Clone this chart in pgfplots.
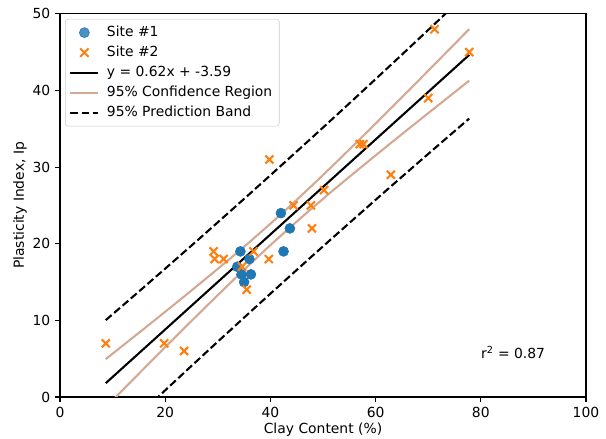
\documentclass[border=0pt]{standalone}
\usepackage{fontspec}
\setmainfont{DejaVu Sans}
\usepackage{pgfplots}
\usepackage{pgfplotstable}
\pgfplotsset{compat=1.18}
\definecolor{siteone}{HTML}{1F77B4}
\definecolor{sitetwo}{HTML}{FF7F0E}
\definecolor{confband}{HTML}{D4A993}
\definecolor{legframe}{HTML}{CCCCCC}

% Site #1 samples
\pgfplotstableread{
x y
42.0 24
43.7 22
42.5 19
34.3 19
36.0 18
33.7 17
34.5 16
36.3 16
35.0 15
}\siteA

% Site #2 samples
\pgfplotstableread{
x y
8.7 7
19.8 7
23.6 6
29.2 19
29.4 18
31.1 18
34.6 17
35.5 14
36.8 19
39.7 18
39.8 31
44.4 25
47.7 25
47.9 22
50.2 27
57.0 33
57.7 33
62.9 29
70.0 39
71.2 48
77.8 45
}\siteB

% fit, confidence and prediction bands
\pgfplotstableread{
x line cu cl pu pl
8.7 1.80 4.94 -1.33 10.03 -6.42
12 3.85 6.74 0.96 11.98 -4.28
16 6.33 8.92 3.74 14.36 -1.70
20 8.81 11.12 6.50 16.75 0.87
24 11.29 13.34 9.24 19.16 3.42
28 13.77 15.59 11.95 21.58 5.96
32 16.25 17.87 14.63 24.02 8.48
36 18.73 20.20 17.26 26.47 10.99
40 21.21 22.61 19.82 28.94 13.48
44 23.69 25.09 22.29 31.42 15.96
48 26.17 27.65 24.69 33.91 18.43
52 28.65 30.29 27.02 36.42 20.88
56 31.13 32.97 29.29 38.95 23.31
60 33.61 35.69 31.53 41.49 25.73
64 36.09 38.43 33.75 44.04 28.14
68 38.57 41.19 35.95 46.61 30.53
72 41.05 43.97 38.13 49.19 32.91
77.8 44.65 48.01 41.29 52.96 36.34
}\bands

\begin{document}
\begin{tikzpicture}
\useasboundingbox (-43.2pt,-30.2pt) rectangle (393.1pt,285.8pt);
\begin{axis}[
  scale only axis,
  width=378.7pt,
  height=275.8pt,
  xmin=0, xmax=100,
  ymin=0, ymax=50,
  xtick={0,20,...,100},
  ytick={0,10,...,50},
  tick align=outside,
  tick pos=left,
  major tick length=3.5pt,
  tick style={black, line width=0.8pt},
  axis line style={black, line width=0.8pt},
  /pgf/number format/assume math mode=true,
  tick label style={font=\normalsize},
  xlabel={Clay Content (\%)},
  ylabel={Plasticity Index, Ip},
  xlabel style={at={(0.5,0)}, anchor=center, yshift=-23.8pt},
  ylabel style={at={(0,0.5)}, anchor=center, yshift=28.8pt},
  legend cell align=left,
  legend style={at={(0,1)}, anchor=north west, xshift=3.6pt, yshift=-3.6pt,
    draw=legframe, fill=white, fill opacity=0.8, text opacity=1,
    rounded corners=2pt, font=\normalsize, inner xsep=3pt, inner ysep=2.5pt,
    nodes={text height=7.6pt, text depth=2.4pt, inner ysep=2.2pt},
    /tikz/every odd column/.append style={column sep=3.5pt}},
  legend image code/.code={\draw[#1] (0pt,0pt) -- (20pt,0pt);},
]
\addplot[only marks, mark=*, mark size=3.6pt, color=siteone, forget plot] table[x=x, y=y] {\siteA};
\addplot[only marks, mark=x, mark size=4.1pt, line width=1.5pt, color=sitetwo, forget plot] table[x=x, y=y] {\siteB};

\addplot[black, line width=1.5pt, forget plot] table[x=x, y=line] {\bands};
\addplot[confband, line width=1.5pt, forget plot] table[x=x, y=cu] {\bands};
\addplot[confband, line width=1.5pt, forget plot] table[x=x, y=cl] {\bands};
\addplot[black, line width=1.5pt, dash pattern=on 5.55pt off 2.4pt, forget plot] table[x=x, y=pu] {\bands};
\addplot[black, line width=1.5pt, dash pattern=on 5.55pt off 2.4pt, forget plot] table[x=x, y=pl] {\bands};

\addlegendimage{legend image code/.code={\fill[siteone] (10pt,0pt) circle (3.6pt);}}
\addlegendentry{Site \#1}
\addlegendimage{legend image code/.code={\draw[sitetwo, line width=1.5pt] (7pt,-3pt) -- (13pt,3pt) (7pt,3pt) -- (13pt,-3pt);}}
\addlegendentry{Site \#2}
\addlegendimage{black, line width=1.5pt}
\addlegendentry{y = 0.62x + -3.59}
\addlegendimage{confband, line width=1.5pt}
\addlegendentry{95\% Confidence Region}
\addlegendimage{black, line width=1.5pt, dash pattern=on 5.55pt off 2.4pt}
\addlegendentry{95\% Prediction Band}

\node[anchor=base west, inner sep=0pt] at (axis cs:80,5) {r\textsuperscript{2} = 0.87};
\end{axis}
\end{tikzpicture}
\end{document}
